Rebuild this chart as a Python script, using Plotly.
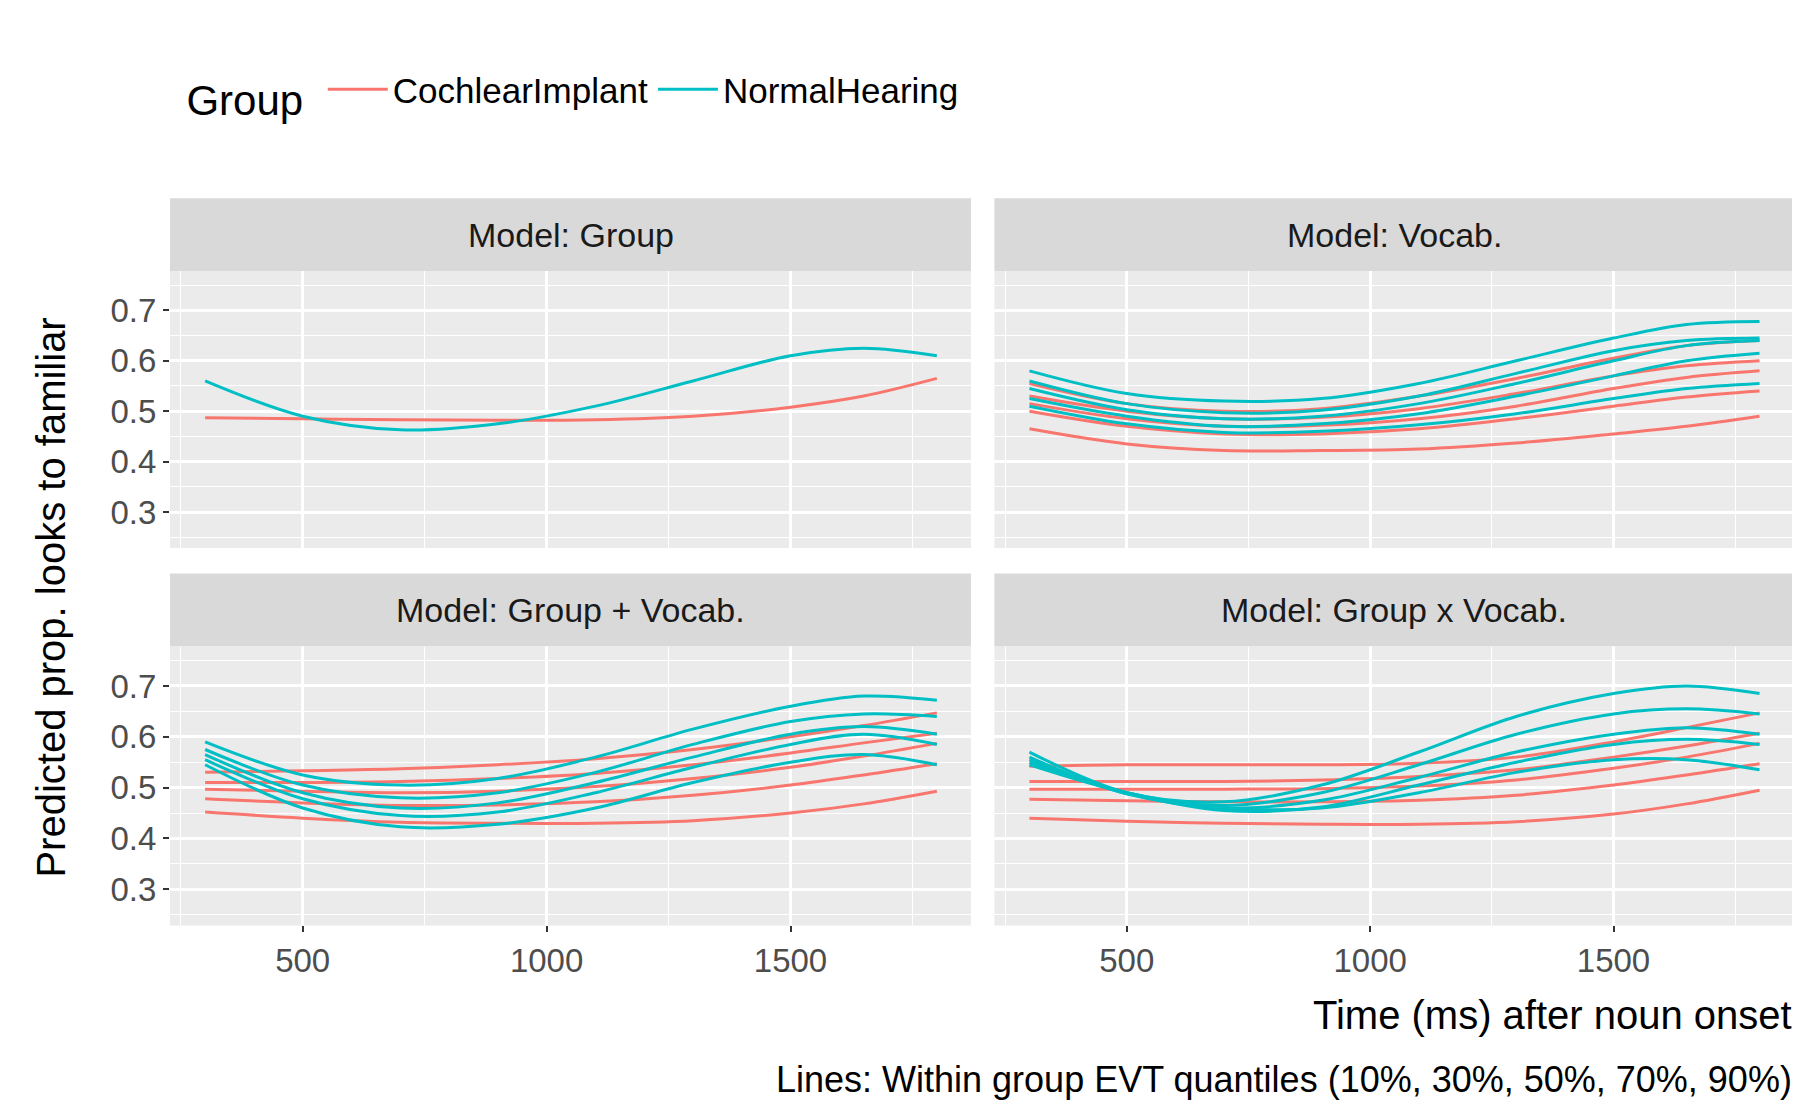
import plotly.graph_objects as go

# time points (ms) the curves are read at
time = [300, 500, 700, 900, 1100, 1300, 1500, 1650, 1800]

# Model: Group
grp_ci = [[0.487, 0.485, 0.483, 0.482, 0.483, 0.49, 0.508, 0.53, 0.565]]
grp_nh = [[0.56, 0.49, 0.463, 0.475, 0.51, 0.56, 0.61, 0.625, 0.61]]

# Model: Vocab. (10%..90% quantiles)
voc_ci = [
    [0.465, 0.435, 0.422, 0.422, 0.425, 0.437, 0.455, 0.47, 0.49],
    [0.50, 0.47, 0.455, 0.455, 0.465, 0.485, 0.51, 0.528, 0.54],
    [0.515, 0.485, 0.47, 0.472, 0.485, 0.51, 0.545, 0.567, 0.58],
    [0.53, 0.50, 0.485, 0.488, 0.505, 0.535, 0.57, 0.59, 0.60],
    [0.555, 0.515, 0.50, 0.505, 0.53, 0.565, 0.605, 0.63, 0.64],
]
voc_nh = [
    [0.51, 0.475, 0.458, 0.46, 0.473, 0.495, 0.525, 0.545, 0.555],
    [0.525, 0.49, 0.47, 0.475, 0.495, 0.53, 0.57, 0.6, 0.615],
    [0.545, 0.503, 0.485, 0.49, 0.515, 0.555, 0.6, 0.63, 0.64],
    [0.56, 0.515, 0.497, 0.502, 0.53, 0.575, 0.62, 0.64, 0.645],
    [0.58, 0.535, 0.52, 0.525, 0.555, 0.6, 0.645, 0.672, 0.678],
]

# Model: Group + Vocab.
gv_ci = [
    [0.452, 0.44, 0.432, 0.43, 0.43, 0.435, 0.45, 0.468, 0.493],
    [0.478, 0.47, 0.465, 0.466, 0.472, 0.485, 0.505, 0.525, 0.547],
    [0.497, 0.493, 0.49, 0.493, 0.502, 0.518, 0.54, 0.562, 0.587],
    [0.51, 0.51, 0.512, 0.518, 0.528, 0.545, 0.568, 0.588, 0.607],
    [0.53, 0.533, 0.537, 0.545, 0.557, 0.575, 0.6, 0.622, 0.647],
]
gv_nh = [
    [0.545, 0.46, 0.423, 0.428, 0.46, 0.51, 0.55, 0.565, 0.545],
    [0.555, 0.478, 0.445, 0.452, 0.49, 0.54, 0.585, 0.605, 0.585],
    [0.565, 0.49, 0.46, 0.47, 0.51, 0.56, 0.605, 0.62, 0.605],
    [0.575, 0.505, 0.48, 0.49, 0.53, 0.585, 0.63, 0.645, 0.64],
    [0.59, 0.525, 0.505, 0.518, 0.56, 0.615, 0.66, 0.68, 0.672],
]

# Model: Group x Vocab.
gxv_ci = [
    [0.44, 0.434, 0.43, 0.428, 0.428, 0.433, 0.448, 0.468, 0.495],
    [0.477, 0.474, 0.472, 0.472, 0.475, 0.485, 0.505, 0.525, 0.547],
    [0.497, 0.497, 0.497, 0.498, 0.503, 0.515, 0.538, 0.56, 0.587],
    [0.512, 0.512, 0.512, 0.515, 0.522, 0.535, 0.56, 0.582, 0.607],
    [0.542, 0.545, 0.545, 0.545, 0.548, 0.56, 0.59, 0.618, 0.647],
]
gxv_nh = [
    [0.545, 0.49, 0.46, 0.46, 0.49, 0.53, 0.555, 0.555, 0.535],
    [0.55, 0.49, 0.455, 0.462, 0.505, 0.55, 0.585, 0.595, 0.585],
    [0.555, 0.488, 0.46, 0.475, 0.52, 0.57, 0.605, 0.618, 0.605],
    [0.56, 0.488, 0.465, 0.49, 0.545, 0.605, 0.645, 0.655, 0.645],
    [0.57, 0.49, 0.472, 0.505, 0.57, 0.64, 0.685, 0.7, 0.685],
]

panels = [
    ("Model: Group", grp_ci, grp_nh),
    ("Model: Vocab.", voc_ci, voc_nh),
    ("Model: Group + Vocab.", gv_ci, gv_nh),
    ("Model: Group x Vocab.", gxv_ci, gxv_nh),
]

CI_COL = "#F8766D"
NH_COL = "#00BFC4"
FONT = "Liberation Sans, Arial, sans-serif"

xdom = [(0.090, 0.535), (0.548, 0.992)]
ydom = [(0.5145, 0.7635), (0.175, 0.426)]
strip_h = 0.0655

fig = go.Figure()
shapes = []
annotations = []

for i, (title, ci, nh) in enumerate(panels):
    row, col = divmod(i, 2)
    n = i + 1
    xa = "x" if n == 1 else f"x{n}"
    ya = "y" if n == 1 else f"y{n}"
    for k, ys in enumerate(ci):
        fig.add_trace(go.Scatter(
            x=time, y=ys, mode="lines", line=dict(color=CI_COL, width=3, shape="spline"),
            name="CochlearImplant", legendgroup="ci", showlegend=(i == 0 and k == 0),
            xaxis=xa, yaxis=ya))
    for k, ys in enumerate(nh):
        fig.add_trace(go.Scatter(
            x=time, y=ys, mode="lines", line=dict(color=NH_COL, width=3, shape="spline"),
            name="NormalHearing", legendgroup="nh", showlegend=(i == 0 and k == 0),
            xaxis=xa, yaxis=ya))

    axis_common = dict(showline=False, zeroline=False, gridcolor="white", gridwidth=2.5,
                       ticks="outside", ticklen=6, tickcolor="#333333", tickwidth=1.5,
                       tickfont=dict(family=FONT, size=33, color="#4D4D4D"),
                       minor=dict(showgrid=True, gridcolor="white", gridwidth=1.2, ticks=""))
    fig.update_layout({
        ("xaxis" if n == 1 else f"xaxis{n}"): dict(
            axis_common, domain=list(xdom[col]), range=[228, 1870], anchor=ya,
            tickvals=[500, 1000, 1500], minor_tickvals=[250, 750, 1250, 1750],
            showticklabels=(row == 1), ticks="outside" if row == 1 else ""),
        ("yaxis" if n == 1 else f"yaxis{n}"): dict(
            axis_common, domain=list(ydom[row]), range=[0.229, 0.778], anchor=xa,
            tickvals=[0.3, 0.4, 0.5, 0.6, 0.7], ticktext=["0.3", "0.4", "0.5", "0.6", "0.7"],
            minor_tickvals=[0.25, 0.35, 0.45, 0.55, 0.65, 0.75],
            showticklabels=(col == 0), ticks="outside" if col == 0 else ""),
    })
    x0, x1 = xdom[col]
    y0, y1 = ydom[row]
    shapes.append(dict(type="rect", xref="paper", yref="paper", x0=x0, x1=x1, y0=y0, y1=y1,
                       fillcolor="#EBEBEB", line=dict(width=0), layer="below"))
    shapes.append(dict(type="rect", xref="paper", yref="paper", x0=x0, x1=x1, y0=y1,
                       y1=y1 + strip_h, fillcolor="#D9D9D9", line=dict(width=0)))
    annotations.append(dict(text=title, xref="paper", yref="paper", x=(x0 + x1) / 2,
                            y=y1 + strip_h / 2, showarrow=False, xanchor="center",
                            yanchor="middle",
                            font=dict(family=FONT, size=34, color="#1A1A1A")))

annotations += [
    dict(text="Predicted prop. looks to familiar", xref="paper", yref="paper", x=0.024,
         y=0.47, xanchor="center", yanchor="middle", textangle=-90, showarrow=False,
         font=dict(family=FONT, size=40, color="black")),
    dict(text="Time (ms) after noun onset", xref="paper", yref="paper", x=0.992, y=0.094,
         xanchor="right", yanchor="middle", showarrow=False,
         font=dict(family=FONT, size=40, color="black")),
    dict(text="Lines: Within group EVT quantiles (10%, 30%, 50%, 70%, 90%)", xref="paper",
         yref="paper", x=0.992, y=0.036, xanchor="right", yanchor="middle", showarrow=False,
         font=dict(family=FONT, size=36, color="black")),
]

fig.update_layout(
    width=1800, height=1112, paper_bgcolor="white", plot_bgcolor="rgba(0,0,0,0)",
    margin=dict(l=0, r=0, t=0, b=0), shapes=shapes, annotations=annotations,
    legend=dict(orientation="h", x=0.098, y=0.924, xanchor="left", yanchor="middle",
                title=dict(text="Group ", font=dict(family=FONT, size=42, color="black")),
                font=dict(family=FONT, size=35, color="black"), itemwidth=60,
                bgcolor="rgba(0,0,0,0)"),
)

fig.write_html("out.html")
